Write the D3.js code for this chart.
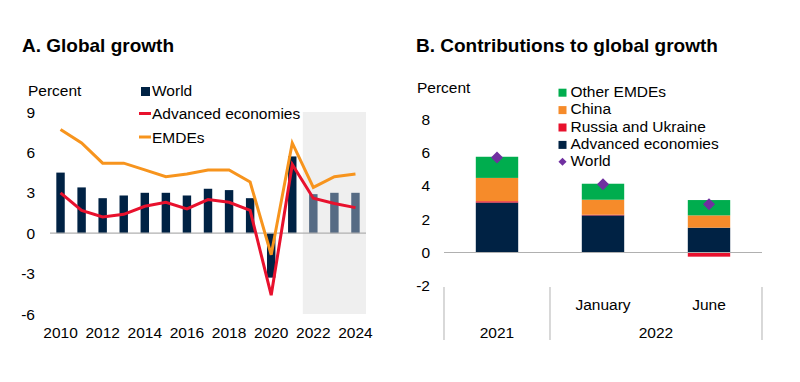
<!DOCTYPE html>
<html><head><meta charset="utf-8">
<script src="https://cdn.jsdelivr.net/npm/d3@7"></script>
<style>
html,body{margin:0;padding:0;background:#fff;}
svg text{font-family:"Liberation Sans",Arial,Helvetica,sans-serif;fill:#000;}
</style></head>
<body>
<svg id="c" width="800" height="382"></svg>
<script>
// ---------- Panel A data ----------
const years = [2010,2011,2012,2013,2014,2015,2016,2017,2018,2019,2020,2021,2022,2023,2024];
const worldGrowth = [4.5,3.4,2.6,2.8,3.0,3.0,2.8,3.3,3.2,2.6,-3.3,5.7,2.9,3.0,3.0];
const advancedGrowth = [3.0,1.7,1.2,1.4,2.0,2.3,1.8,2.5,2.3,1.7,-4.6,5.1,2.6,2.2,1.9];
const emdeGrowth = [7.7,6.7,5.2,5.2,4.7,4.2,4.4,4.7,4.7,3.8,-1.6,6.7,3.4,4.2,4.4];
const forecastYears = [2022,2023,2024];
const yTicksA = [-6,-3,0,3,6,9];
const xTickYearsA = [2010,2012,2014,2016,2018,2020,2022,2024];

// ---------- Panel B data ----------
const periods = ["2021","January","June"];
const periodGroups = [{label:"2021", members:["2021"]},{label:"2022", members:["January","June"]}];
const periodSubLabels = ["","January","June"];
const advContrib = [3.0,2.23,1.49];
const russiaUkraineContrib = [0.08,0.04,-0.25];
const chinaContrib = [1.4,0.9,0.74];
const otherEmdeContrib = [1.27,0.96,0.92];
const worldTotal = [5.7,4.1,2.9];
const yTicksB = [-2,0,2,4,6,8];

const svg = d3.select("#c");
const FS = 15.5;
const navy = "#002244", forecastCol = "#566b84", red = "#e8112d", orange = "#f7941d", green = "#00ad4e", purple = "#7030a0", grey = "#b0b0b0";

// ================= Panel A =================
const xA = d3.scaleBand().domain(years).range([50, 366]).paddingInner(0.6).paddingOuter(0.3);
const yA = d3.scaleLinear().domain([-6, 9]).range([314, 112]);
const gA = svg.append("g");

gA.append("text").attr("x", 22).attr("y", 52).attr("font-size", 19).attr("font-weight", "bold").text("A. Global growth");

// forecast shading
const fx0 = xA(forecastYears[0]) - xA.step()*xA.paddingInner()/2;
gA.append("rect").attr("x", fx0).attr("y", yA(9)).attr("width", 366 - fx0)
  .attr("height", yA(-6) - yA(9)).attr("fill", "#efefef");

// y tick labels
gA.selectAll(".yt").data(yTicksA).join("text")
  .attr("x", 35).attr("y", d => yA(d)).attr("dy", "0.36em").attr("text-anchor", "end")
  .attr("font-size", FS).text(d => d);

// bars
gA.selectAll(".bar").data(years.map((y,i)=>({y, v:worldGrowth[i]}))).join("rect")
  .attr("x", d => xA(d.y)).attr("width", xA.bandwidth())
  .attr("y", d => yA(Math.max(0, d.v))).attr("height", d => Math.abs(yA(d.v) - yA(0)))
  .attr("fill", d => forecastYears.includes(d.y) ? forecastCol : navy);

// zero line
gA.append("line").attr("x1", 50).attr("x2", 366).attr("y1", yA(0)).attr("y2", yA(0))
  .attr("stroke", grey).attr("stroke-width", 1.2);

const lineA = d3.line().x((d,i) => xA(years[i]) + xA.bandwidth()/2).y(d => yA(d));
gA.append("path").datum(emdeGrowth).attr("d", lineA).attr("fill", "none").attr("stroke", orange).attr("stroke-width", 3);
gA.append("path").datum(advancedGrowth).attr("d", lineA).attr("fill", "none").attr("stroke", red).attr("stroke-width", 3);

// x labels
gA.selectAll(".xt").data(xTickYearsA).join("text")
  .attr("x", d => xA(d) + xA.bandwidth()/2).attr("y", 338).attr("text-anchor", "middle")
  .attr("font-size", FS).text(d => d);

// legend A
gA.append("text").attr("x", 28).attr("y", 96).attr("font-size", FS).text("Percent");
gA.append("rect").attr("x", 141).attr("y", 87).attr("width", 9).attr("height", 9).attr("fill", navy);
gA.append("text").attr("x", 152).attr("y", 96).attr("font-size", FS).text("World");
gA.append("line").attr("x1", 139).attr("x2", 151).attr("y1", 113.5).attr("y2", 113.5).attr("stroke", red).attr("stroke-width", 3);
gA.append("text").attr("x", 152).attr("y", 119).attr("font-size", FS).text("Advanced economies");
gA.append("line").attr("x1", 139).attr("x2", 151).attr("y1", 137).attr("y2", 137).attr("stroke", orange).attr("stroke-width", 3);
gA.append("text").attr("x", 152).attr("y", 142.5).attr("font-size", FS).text("EMDEs");

// ================= Panel B =================
const xB = d3.scaleBand().domain(periods).range([444, 762]).paddingInner(0.6).paddingOuter(0.3);
const yB = d3.scaleLinear().domain([-2, 8]).range([285.8, 119.3]);
const gB = svg.append("g");

gB.append("text").attr("x", 416).attr("y", 52).attr("font-size", 19).attr("font-weight", "bold").text("B. Contributions to global growth");

gB.selectAll(".yt").data(yTicksB).join("text")
  .attr("x", 430).attr("y", d => yB(d)).attr("dy", "0.36em").attr("text-anchor", "end")
  .attr("font-size", FS).text(d => d);

const keys = ["adv","russia","china","other"];
const colors = {adv: navy, russia: red, china: "#f68b2a", other: green};
const rows = periods.map((p,i) => ({p, adv: advContrib[i], russia: russiaUkraineContrib[i], china: chinaContrib[i], other: otherEmdeContrib[i]}));
const stacked = d3.stack().keys(keys).offset(d3.stackOffsetDiverging)(rows);
gB.selectAll(".ser").data(stacked).join("g").attr("fill", s => colors[s.key])
  .selectAll("rect").data(s => s).join("rect")
  .attr("x", d => xB(d.data.p)).attr("width", xB.bandwidth())
  .attr("y", d => yB(Math.max(d[0], d[1]))).attr("height", d => Math.abs(yB(d[0]) - yB(d[1])));

gB.append("line").attr("x1", 444).attr("x2", 762).attr("y1", yB(0)).attr("y2", yB(0))
  .attr("stroke", grey).attr("stroke-width", 1.2);

const diamond = d3.symbol().type(d3.symbolDiamond2).size(92);
gB.selectAll(".wd").data(periods.map((p,i)=>({p, v: worldTotal[i]}))).join("path")
  .attr("d", diamond).attr("fill", purple)
  .attr("transform", d => `translate(${xB(d.p) + xB.bandwidth()/2},${yB(d.v)})`);

// category axis
const sepX = [444, xB("January") - xB.step()*xB.paddingInner()/2, 762];
gB.selectAll(".sep").data(sepX).join("line")
  .attr("x1", d => d).attr("x2", d => d).attr("y1", 287).attr("y2", 340)
  .attr("stroke", "#bfbfbf").attr("stroke-width", 1.2);
gB.selectAll(".sub").data(periods.map((p,i)=>({p, t: periodSubLabels[i]}))).join("text")
  .attr("x", d => xB(d.p) + xB.bandwidth()/2).attr("y", 310).attr("text-anchor", "middle")
  .attr("font-size", FS).text(d => d.t);
gB.selectAll(".grp").data(periodGroups).join("text")
  .attr("x", (g, i) => i === 0 ? xB(g.members[0]) + xB.bandwidth()/2 : (sepX[1] + sepX[2]) / 2)
  .attr("y", 338).attr("text-anchor", "middle").attr("font-size", FS).text(g => g.label);

// legend B
gB.append("text").attr("x", 417).attr("y", 92.5).attr("font-size", FS).text("Percent");
const legB = [
  {t:"Other EMDEs", c: green}, {t:"China", c: "#f68b2a"}, {t:"Russia and Ukraine", c: red},
  {t:"Advanced economies", c: navy}
];
legB.forEach((l,i) => {
  const by = 96.7 + i*17.4;
  gB.append("rect").attr("x", 558.5).attr("y", by - 8).attr("width", 8).attr("height", 8).attr("fill", l.c);
  gB.append("text").attr("x", 570.5).attr("y", by).attr("font-size", FS).text(l.t);
});
gB.append("path").attr("d", d3.symbol().type(d3.symbolDiamond2).size(42)).attr("fill", purple)
  .attr("transform", `translate(562.5,${96.7 + 4*17.4 - 4.5})`);
gB.append("text").attr("x", 570.5).attr("y", 96.7 + 4*17.4).attr("font-size", FS).text("World");
</script>
</body></html>
